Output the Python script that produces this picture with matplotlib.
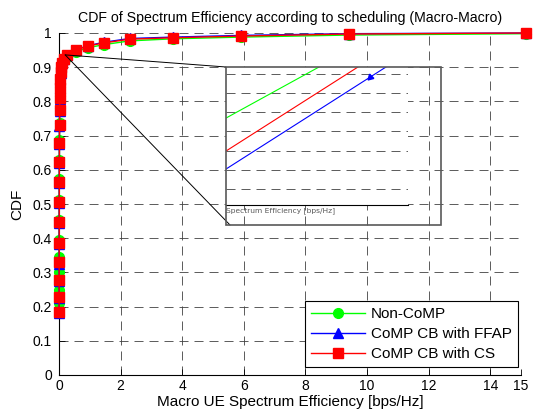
import matplotlib
matplotlib.use("Agg")
import matplotlib.pyplot as plt
from matplotlib.patches import Rectangle, ConnectionPatch

plt.rcParams['font.family'] = ['Liberation Sans', 'DejaVu Sans']
plt.rcParams['lines.scale_dashes'] = False

# CDF samples (spectrum efficiency in bps/Hz, cumulative probability)
x_noncomp = [0.003, 0.004, 0.005, 0.006, 0.007, 0.008, 0.009, 0.010, 0.012, 0.014,
             0.017, 0.02, 0.025, 0.03, 0.04, 0.05, 0.07, 0.1, 0.15, 0.26, 0.55,
             0.94, 1.46, 2.3, 3.7, 5.9, 9.4, 15.15]
y_noncomp = [0.21, 0.249, 0.301, 0.345, 0.395, 0.453, 0.512, 0.572, 0.630, 0.686,
             0.738, 0.782, 0.815, 0.843, 0.866, 0.884, 0.898, 0.909, 0.921, 0.931,
             0.945, 0.957, 0.966, 0.977, 0.983, 0.988, 0.994, 0.998]

x_ffap = [0.002, 0.003, 0.004, 0.005, 0.006, 0.007, 0.008, 0.009, 0.011, 0.013,
          0.016, 0.019, 0.024, 0.03, 0.04, 0.05, 0.07, 0.1, 0.15, 0.26, 0.55,
          0.94, 1.46, 2.3, 3.7, 5.9, 9.4, 15.15]
y_ffap = [0.180, 0.224, 0.274, 0.326, 0.382, 0.443, 0.502, 0.560, 0.619, 0.674,
          0.727, 0.771, 0.808, 0.838, 0.864, 0.884, 0.900, 0.912, 0.925, 0.937,
          0.951, 0.963, 0.973, 0.984, 0.988, 0.993, 0.998, 1.0]

x_cs = [0.003, 0.004, 0.005, 0.006, 0.007, 0.008, 0.009, 0.010, 0.012, 0.014,
        0.017, 0.02, 0.025, 0.03, 0.04, 0.05, 0.07, 0.1, 0.15, 0.26, 0.55,
        0.94, 1.46, 2.3, 3.7, 5.9, 9.4, 15.15]
y_cs = [0.184, 0.228, 0.278, 0.330, 0.386, 0.447, 0.506, 0.564, 0.623, 0.678,
        0.731, 0.775, 0.810, 0.840, 0.865, 0.885, 0.900, 0.912, 0.925, 0.936,
        0.950, 0.962, 0.971, 0.982, 0.986, 0.991, 0.997, 1.0]

series_labels = ['Non-CoMP', 'CoMP CB with FFAP', 'CoMP CB with CS']

x_ticks = [0, 2, 4, 6, 8, 10, 12, 14, 15]
y_ticks = [0, 0.1, 0.2, 0.3, 0.4, 0.5, 0.6, 0.7, 0.8, 0.9, 1]
y_ticklabels = ['0', '0.1', '0.2', '0.3', '0.4', '0.5', '0.6', '0.7', '0.8', '0.9', '1']

# magnified view: grid levels and the three curve segments
zoom_grid_y = [1, 2, 3, 4, 5, 6, 7]
zoom_green_x = [0.0, 0.511]
zoom_green_y = [4.70, 7.364]
zoom_red_x = [0.0, 0.725]
zoom_red_y = [2.98, 7.364]
zoom_blue_x = [0.0, 0.879]
zoom_blue_y = [2.04, 7.364]
zoom_blue_mark_x = [0.791]
zoom_blue_mark_y = [6.83]
zoom_source = (0.2, 0.936)

W, H = 533, 417
fig = plt.figure(figsize=(W / 100, H / 100), dpi=100)
ax = fig.add_axes([59 / W, 42 / H, 462 / W, 342 / H])

dash = (0, (6.5, 4.3))
ax.grid(True, linestyle=dash, color='0.25', linewidth=0.6)
ax.set_axisbelow(True)

ax.plot(x_noncomp, y_noncomp, color='#00ff00', marker='o', markersize=7,
        linewidth=1, label=series_labels[0], clip_on=False, zorder=3)
ax.plot(x_ffap, y_ffap, color='#0000ff', marker='^', markersize=7,
        linewidth=1, label=series_labels[1], clip_on=False, zorder=3)
ax.plot(x_cs, y_cs, color='#ff0000', marker='s', markersize=7,
        linewidth=1, label=series_labels[2], clip_on=False, zorder=3)

ax.set_xlim(0, 15)
ax.set_ylim(0, 1)
ax.set_xticks(x_ticks)
ax.set_yticks(y_ticks)
ax.set_yticklabels(y_ticklabels)
for s in ('top', 'right'):
    ax.spines[s].set_visible(False)
for s in ('left', 'bottom'):
    ax.spines[s].set_linewidth(0.8)
ax.tick_params(direction='in', length=4, width=0.6, labelsize=10, pad=3)
ax.tick_params(axis='y', pad=5)

ax.set_title('CDF of Spectrum Efficiency according to scheduling (Macro-Macro)',
             fontsize=10.2, pad=8)
ax.set_xlabel('Macro UE Spectrum Efficiency [bps/Hz]', fontsize=11, labelpad=1)
ax.set_ylabel('CDF', fontsize=11, labelpad=6)

leg = ax.legend(loc='lower right', bbox_to_anchor=(518 / W, 50 / H),
                bbox_transform=fig.transFigure, borderaxespad=0,
                fancybox=False, framealpha=1, edgecolor='black',
                handlelength=3.5, fontsize=11, labelspacing=0.38,
                borderpad=0.4, handletextpad=0.4)
leg.get_frame().set_linewidth(0.8)

# magnifier: outline box, white inner view, and connector lines
box = Rectangle((226 / W, (H - 225) / H), 215 / W, 158 / H,
                transform=fig.transFigure, fill=False, edgecolor='0.35',
                linewidth=1.2, zorder=10)
fig.patches.append(box)

axz = fig.add_axes([226 / W, (H - 205) / H, 182 / W, 138 / H], zorder=5)
axz.set_facecolor('white')
axz.set_xlim(0, 1)
axz.set_ylim(0.165, 7.364)
for yv in zoom_grid_y:
    axz.plot([0, 1], [yv, yv], linestyle=dash, color='0.25', linewidth=0.6)
axz.plot(zoom_green_x, zoom_green_y, color='#00ff00', linewidth=0.8)
axz.plot(zoom_red_x, zoom_red_y, color='#ff0000', linewidth=0.8)
axz.plot(zoom_blue_x, zoom_blue_y, color='#0000ff', linewidth=0.8)
axz.plot(zoom_blue_mark_x, zoom_blue_mark_y, color='#0000ff', linestyle='none',
         marker=(3, 0, 135), markersize=5)
axz.set_xticks([])
axz.set_yticks([])
for s in ('top', 'right', 'left'):
    axz.spines[s].set_visible(False)
axz.spines['bottom'].set_linewidth(0.8)
axz.set_xlabel('Spectrum Efficiency [bps/Hz]', fontsize=5.4, color='0.35',
               family='DejaVu Sans', labelpad=1.5, loc='left')

for corner in ((226 / W, (H - 67) / H), (230 / W, (H - 225) / H)):
    con = ConnectionPatch(xyA=zoom_source, coordsA=ax.transData,
                          xyB=corner, coordsB='figure fraction',
                          color='black', linewidth=0.7, zorder=9)
    fig.add_artist(con)

fig.savefig('out.png', dpi=100)
